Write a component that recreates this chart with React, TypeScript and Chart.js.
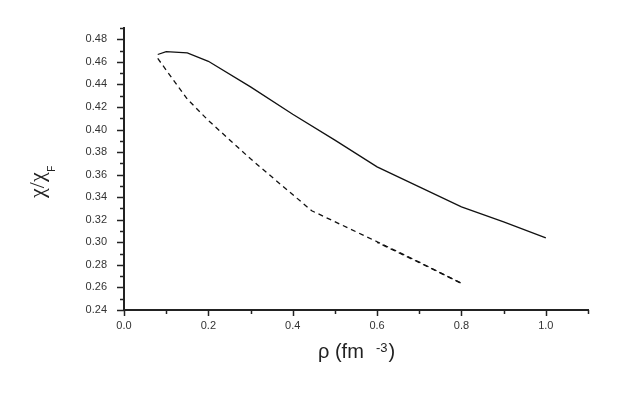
import React, { useEffect, useRef } from "react";
import { Chart, registerables } from "chart.js";

Chart.register(...registerables);

// Solid curve
const rhoSolid = [0.08, 0.1, 0.15, 0.2, 0.3, 0.4, 0.5, 0.6, 0.7, 0.8, 0.9, 1.0];
const chiSolid = [0.4665, 0.469, 0.468, 0.4605, 0.4378, 0.4136, 0.3906, 0.3669, 0.3492, 0.3315, 0.3182, 0.304];

// Dashed curve
const rhoDashed = [0.08, 0.15, 0.2, 0.3, 0.445, 0.6, 0.7, 0.8];
const chiDashed = [0.463, 0.427, 0.408, 0.374, 0.328, 0.3005, 0.2825, 0.2636];

// Second dashed curve (overlapping at high density)
const rhoDashed2 = [0.6, 0.7, 0.8];
const chiDashed2 = [0.3, 0.282, 0.2636];

const xMin = 0;
const xMax = 1.1;
const xStep = 0.1;
const yMin = 0.24;
const yMax = 0.49;
const yStep = 0.01;

const toPts = (xs: number[], ys: number[]) => xs.map((x, i) => ({ x, y: ys[i] }));

const TEXT_FONT = "'Liberation Sans', Arial, sans-serif";
const SERIF_FONT = "'Liberation Serif', 'Times New Roman', serif";

const axisDecor = {
  id: "axisDecor",
  afterDraw(chart: any) {
    const ctx = chart.ctx;
    const xs = chart.scales.x;
    const ys = chart.scales.y;
    const area = chart.chartArea;
    ctx.save();
    ctx.strokeStyle = "#222";
    ctx.lineWidth = 1.5;
    // y ticks
    ys.ticks.forEach((t: any) => {
      const v = Math.round(t.value * 100);
      const len = v % 2 === 0 ? 7 : 4;
      const py = Math.round(ys.getPixelForValue(t.value)) + 0.5;
      ctx.beginPath();
      ctx.moveTo(area.left - len, py);
      ctx.lineTo(area.left, py);
      ctx.stroke();
    });
    // x ticks
    xs.ticks.forEach((t: any) => {
      const v = Math.round(t.value * 10);
      const len = v % 2 === 0 ? 6 : 4;
      const px = Math.round(xs.getPixelForValue(t.value)) + 0.5;
      ctx.beginPath();
      ctx.moveTo(px, area.bottom);
      ctx.lineTo(px, area.bottom + len);
      ctx.stroke();
    });

    // Axis titles
    ctx.fillStyle = "#222";
    ctx.textBaseline = "alphabetic";
    ctx.textAlign = "left";
    // Y title: chi / chi_F (rotated)
    ctx.save();
    ctx.translate(43.5, 198);
    ctx.rotate(-Math.PI / 2);
    ctx.font = `22px ${SERIF_FONT}`;
    const main = "χ/χ";
    ctx.fillText(main, 0, 0);
    const w = ctx.measureText(main).width;
    ctx.font = `10px ${TEXT_FONT}`;
    ctx.fillText("F", w + 0.5, 11.5);
    ctx.restore();

    // X title: rho (fm^-3)
    ctx.font = `20px ${TEXT_FONT}`;
    ctx.fillText("ρ (fm", 318, 358);
    ctx.font = `13px ${TEXT_FONT}`;
    ctx.fillText("-3", 376, 352);
    ctx.font = `20px ${TEXT_FONT}`;
    ctx.fillText(")", 388.5, 358);
    ctx.restore();
  },
};

export default function App() {
  const ref = useRef<HTMLCanvasElement | null>(null);

  useEffect(() => {
    if (!ref.current) return;
    const chart = new Chart(ref.current, {
      type: "line",
      data: {
        datasets: [
          {
            label: "solid",
            data: toPts(rhoSolid, chiSolid),
            borderColor: "#111",
            borderWidth: 1.3,
            pointRadius: 0,
            fill: false,
            tension: 0,
          },
          {
            label: "dashed",
            data: toPts(rhoDashed, chiDashed),
            borderColor: "#111",
            borderWidth: 1.3,
            borderDash: [5, 4],
            pointRadius: 0,
            fill: false,
            tension: 0,
          },
          {
            label: "dashed2",
            data: toPts(rhoDashed2, chiDashed2),
            borderColor: "#111",
            borderWidth: 1.3,
            borderDash: [5, 4],
            borderDashOffset: 3,
            pointRadius: 0,
            fill: false,
            tension: 0,
          },
        ],
      },
      options: {
        animation: false,
        responsive: false,
        devicePixelRatio: 1,
        layout: { padding: { top: 28, right: 35, left: 0, bottom: 0 } },
        plugins: {
          legend: { display: false },
          tooltip: { enabled: false },
          title: { display: false },
        },
        scales: {
          x: {
            type: "linear",
            min: xMin,
            max: xMax,
            grid: { display: false, drawTicks: false },
            border: { display: true, color: "#222", width: 2 },
            afterFit: (s: any) => {
              s.height = 89;
            },
            ticks: {
              stepSize: xStep,
              autoSkip: false,
              maxRotation: 0,
              padding: 9,
              color: "#333",
              font: { family: TEXT_FONT, size: 11 },
              callback: (v: any) => {
                const n = Math.round(Number(v) * 10);
                return n % 2 === 0 ? (n / 10).toFixed(1) : "";
              },
            },
          },
          y: {
            type: "linear",
            min: yMin,
            max: yMax,
            grid: { display: false, drawTicks: false },
            border: { display: true, color: "#222", width: 2 },
            afterFit: (s: any) => {
              s.width = 124;
            },
            ticks: {
              stepSize: yStep,
              autoSkip: false,
              padding: 17,
              color: "#333",
              font: { family: TEXT_FONT, size: 11 },
              callback: (v: any) => {
                const n = Math.round(Number(v) * 100);
                return n % 2 === 0 ? (n / 100).toFixed(2) : "";
              },
            },
          },
        },
      },
      plugins: [axisDecor],
    });
    return () => chart.destroy();
  }, []);

  return (
    <div style={{ position: "fixed", left: 0, top: 0, width: 623, height: 399, background: "#fff" }}>
      <canvas ref={ref} width={623} height={399} style={{ display: "block" }} />
    </div>
  );
}
